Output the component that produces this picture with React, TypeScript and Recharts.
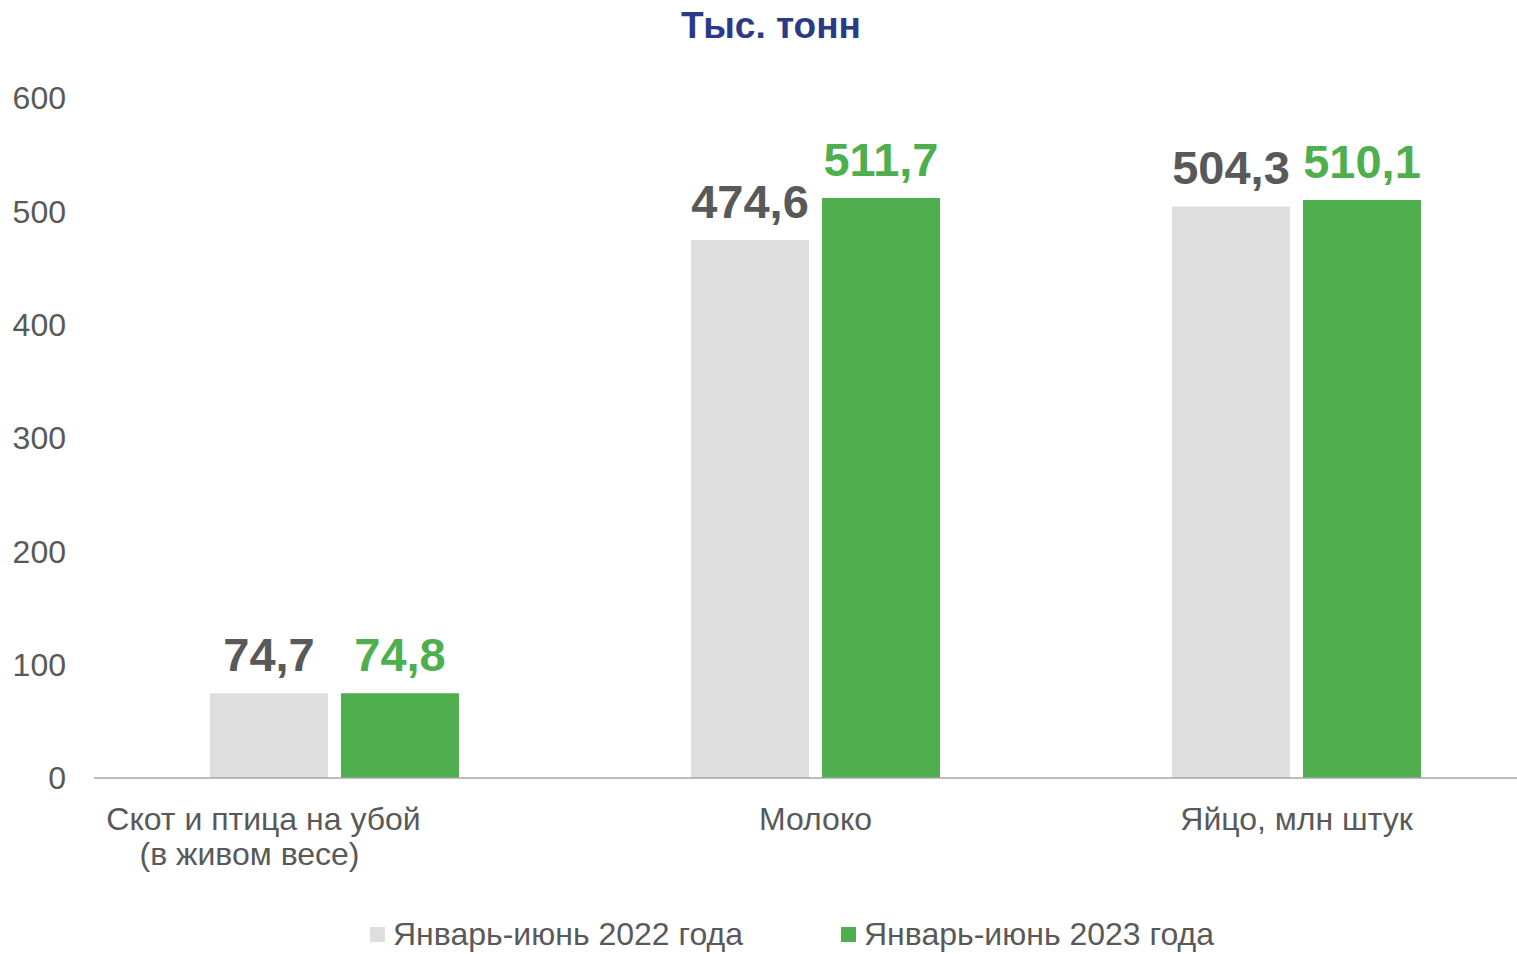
import { Bar, BarChart, LabelList, Legend, XAxis, YAxis } from "recharts";

const categories = ["Скот и птица на убой\n(в живом весе)", "Молоко", "Яйцо, млн штук"];
const values2022 = [74.7, 474.6, 504.3];
const values2023 = [74.8, 511.7, 510.1];
const yTicks = [0, 100, 200, 300, 400, 500, 600];
const seriesNames = ["Январь-июнь 2022 года", "Январь-июнь 2023 года"];

const GREY = "#DEDEDE";
const GREEN = "#4FAF4F";
const TEXT = "#595959";
const FONT = "'Liberation Sans', Arial, sans-serif";

const data = categories.map((c, i) => ({
  name: c,
  y2022: values2022[i],
  y2023: values2023[i],
}));

const fmt = (v: number) => v.toFixed(1).replace(".", ",");

function CategoryTick(props: any) {
  const { x, y, payload, index } = props;
  const lines = String(payload.value).split("\n");
  // first label is pushed left in the original
  const shifts = index === 0 ? [-71, -85] : [0, 0];
  return (
    <g>
      {lines.map((l: string, i: number) => (
        <text
          key={i}
          x={x + shifts[i]}
          y={y + 44 + i * 35}
          textAnchor="middle"
          fill={TEXT}
          fontSize={32}
          fontFamily={FONT}
        >
          {l}
        </text>
      ))}
    </g>
  );
}

function LegendContent() {
  const colors = [GREY, GREEN];
  return (
    <div style={{ position: "relative", height: 36, fontFamily: FONT }}>
      {seriesNames.map((n, i) => (
        <div
          key={n}
          style={{
            position: "absolute",
            left: i === 0 ? 370 : 841,
            top: 0,
            display: "flex",
            alignItems: "center",
            whiteSpace: "nowrap",
            fontSize: 32,
            lineHeight: "36px",
            color: TEXT,
          }}
        >
          <span
            style={{
              display: "inline-block",
              width: 15,
              height: 15,
              background: colors[i],
              marginRight: 8,
            }}
          />
          {n}
        </div>
      ))}
    </div>
  );
}

export default function App() {
  return (
    <div
      style={{
        position: "absolute",
        left: 0,
        top: 0,
        width: 1517,
        height: 954,
        overflow: "hidden",
        background: "#fff",
        fontFamily: FONT,
      }}
    >
      <style>{"body{margin:0;overflow:hidden}"}</style>
      <div
        style={{
          position: "absolute",
          left: 0,
          width: 1542,
          top: 5,
          textAlign: "center",
          fontSize: 37,
          fontWeight: "bold",
          color: "#2B3A87",
        }}
      >
        Тыс. тонн
      </div>
      <BarChart
        width={1537}
        height={954}
        data={data}
        margin={{ top: 98, right: 0, left: 0, bottom: 110 }}
        barSize={118}
        barGap={13}
      >
        <XAxis
          dataKey="name"
          axisLine={{ stroke: "#A6A6A6", strokeWidth: 1.5 }}
          tickLine={false}
          tick={<CategoryTick />}
          interval={0}
        />
        <YAxis
          width={94}
          domain={[0, 600]}
          ticks={yTicks}
          axisLine={false}
          tickLine={false}
          tickMargin={22}
          tick={{ fontSize: 32, fill: TEXT, fontFamily: FONT }}
        />
        <Legend
          verticalAlign="bottom"
          content={<LegendContent />}
          wrapperStyle={{ top: 916, left: 0, width: 1517 }}
        />
        <Bar dataKey="y2022" fill={GREY} isAnimationActive={false}>
          <LabelList
            dataKey="y2022"
            position="top"
            offset={22}
            formatter={(v: any) => fmt(Number(v))}
            style={{ fontSize: 47, fontWeight: "bold", fill: TEXT, fontFamily: FONT }}
          />
        </Bar>
        <Bar dataKey="y2023" fill={GREEN} isAnimationActive={false}>
          <LabelList
            dataKey="y2023"
            position="top"
            offset={22}
            formatter={(v: any) => fmt(Number(v))}
            style={{ fontSize: 47, fontWeight: "bold", fill: GREEN, fontFamily: FONT }}
          />
        </Bar>
      </BarChart>
    </div>
  );
}
